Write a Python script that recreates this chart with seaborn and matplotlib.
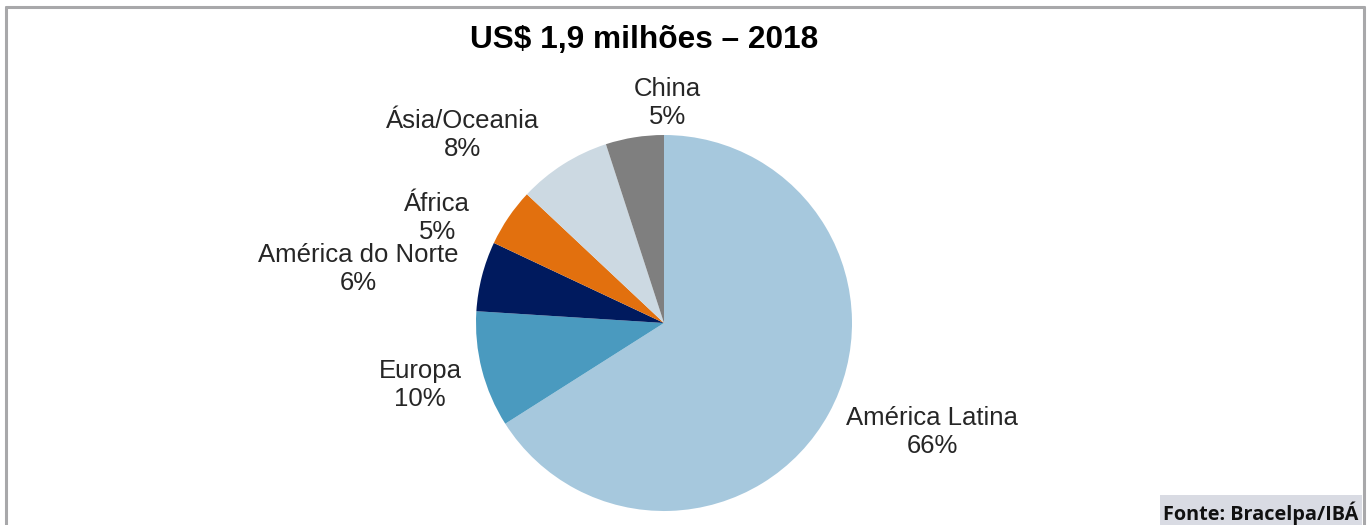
import matplotlib
matplotlib.use("Agg")
import matplotlib.pyplot as plt
from matplotlib.patches import Rectangle
from matplotlib.lines import Line2D
import seaborn as sns

# Export destination shares, 2018
regions = ["América Latina", "Europa", "América do Norte", "África", "Ásia/Oceania", "China"]
shares = [66, 10, 6, 5, 8, 5]
colors = ["#A6C8DD", "#4A9ABF", "#001A5E", "#E2700E", "#CCD9E2", "#7F7F7F"]
title = "US$ 1,9 milhões – 2018"
source = "Fonte: Bracelpa/IBÁ"

# label anchors in pie units (radius = 1)
label_xy = [(1.426, -0.58), (-1.298, -0.33), (-1.628, 0.287),
            (-1.207, 0.559), (-1.074, 1.0), (0.02, 1.17)]

sns.set_theme(style="white")
plt.rcParams["font.family"] = ["Liberation Sans", "DejaVu Sans"]

W, H = 1371, 525
fig = plt.figure(figsize=(W / 100, H / 100), dpi=100)
fig.patch.set_facecolor("white")

cx, cy, r = 664, 323, 188
ax = fig.add_axes([(cx - r) / W, (H - cy - r) / H, 2 * r / W, 2 * r / H])
ax.pie(shares, colors=colors, startangle=90, counterclock=False, radius=1,
       wedgeprops=dict(linewidth=0))
ax.set_xlim(-1, 1)
ax.set_ylim(-1, 1)
ax.set_axis_off()

for name, pct, (x, y) in zip(regions, shares, label_xy):
    ax.text(x, y, f"{name}\n{pct}%", ha="center", va="center", fontsize=18.5,
            color="#262626", linespacing=1.22)

fig.text(644 / W, 1 - 40 / H, title, ha="center", va="center", fontsize=22.8,
         fontweight="bold", color="black")

# outer frame (open at the bottom)
frame_kw = dict(color="#A8A8AA", linewidth=2.2, transform=None)
fig.add_artist(Line2D([5.5, 5.5], [-5, H - 6.5], **frame_kw))
fig.add_artist(Line2D([5.5, 1363.5], [H - 6.5, H - 6.5], **frame_kw))
fig.add_artist(Line2D([1363.5, 1363.5], [-5, H - 6.5], **frame_kw))

# source box
fig.add_artist(Rectangle((1160 / W, 0), (1362 - 1160) / W, 30 / H,
                         transform=fig.transFigure, facecolor="#D9DBE3",
                         edgecolor="none"))
fig.text(1358 / W, 1 - 513 / H, source, ha="right", va="center", fontsize=14.3,
         fontweight="bold", color="#111111", family=["Open Sans", "DejaVu Sans"])

fig.savefig("out.png", dpi=100)
